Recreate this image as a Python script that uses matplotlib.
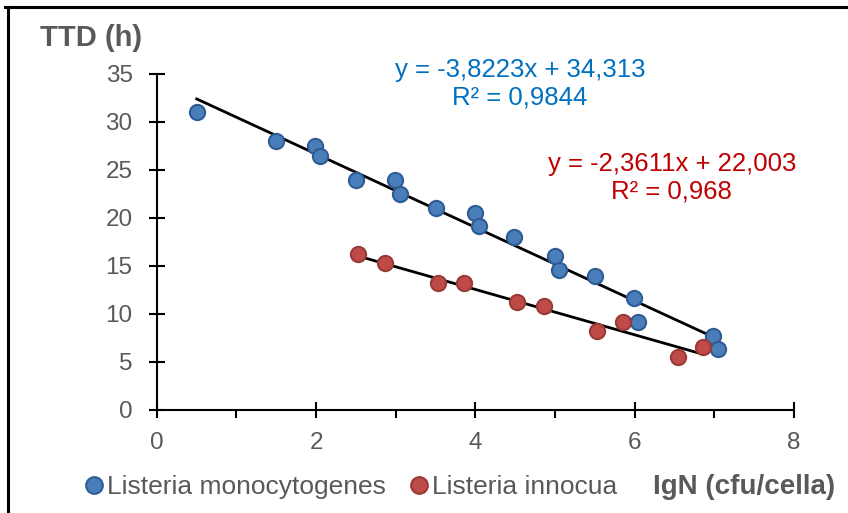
import numpy as np
import matplotlib.pyplot as plt
from matplotlib.lines import Line2D
from matplotlib.ticker import MultipleLocator

# Listeria monocytogenes
mono_x = [0.50, 1.50, 1.99, 2.05, 2.50, 2.99, 3.05, 3.50, 3.99, 4.05,
          4.48, 5.00, 5.05, 5.50, 5.99, 6.05, 6.99, 7.05]
mono_y = [31.0, 28.0, 27.5, 26.5, 24.0, 24.0, 22.5, 21.0, 20.5, 19.2,
          18.0, 16.0, 14.6, 14.0, 11.7, 9.2, 7.7, 6.4]
# Listeria innocua
inno_x = [2.53, 2.86, 3.53, 3.86, 4.53, 4.86, 5.53, 5.86, 6.54, 6.86]
inno_y = [16.2, 15.3, 13.2, 13.2, 11.2, 10.8, 8.2, 9.2, 5.55, 6.6]

# trendline coefficients (slope, intercept)
mono_fit = (-3.8223, 34.313)
inno_fit = (-2.3611, 22.003)

blue = "#4A7EBB"
blue_edge = "#2F5B93"
red = "#BE4B48"
red_edge = "#9A3A37"
gray = "#595959"

plt.rcParams["font.family"] = ["Liberation Sans", "DejaVu Sans"]

fig = plt.figure(figsize=(8.48, 5.13), dpi=100)
ax = fig.add_axes([0.185, 0.2008, 0.751, 0.655])

ax.scatter(mono_x, mono_y, s=120, color=blue, edgecolor=blue_edge, linewidth=1.5, zorder=3)
ax.scatter(inno_x, inno_y, s=120, color=red, edgecolor=red_edge, linewidth=1.5, zorder=3)

for xs, (m, b) in [(mono_x, mono_fit), (inno_x, inno_fit)]:
    xx = np.array([min(xs), max(xs)])
    ax.plot(xx, m * xx + b, color="black", lw=2, zorder=2)

ax.set_xlim(0, 8)
ax.set_ylim(0, 35)
ax.xaxis.set_major_locator(MultipleLocator(2))
ax.xaxis.set_minor_locator(MultipleLocator(1))
ax.yaxis.set_major_locator(MultipleLocator(5))
for s in ["top", "right"]:
    ax.spines[s].set_visible(False)
for s in ["left", "bottom"]:
    ax.spines[s].set_linewidth(1.5)
ax.tick_params(axis="both", which="major", direction="inout", length=11, width=1.5,
               labelsize=17.5, labelcolor=gray)
ax.tick_params(axis="y", which="major", pad=12)
ax.tick_params(axis="x", which="major", pad=10)
ax.tick_params(axis="x", which="minor", direction="out", length=6, width=1.5)

ax.text(4.56, 34.0, "y = -3,8223x + 34,313\nR² = 0,9844", color="#0070C0",
        fontsize=18.5, ha="center", va="center", linespacing=1.2)
ax.text(6.47, 24.2, "y = -2,3611x + 22,003\nR² = 0,968", color="#C00000",
        fontsize=18.5, ha="center", va="center", linespacing=1.2)

fig.text(0.047, 0.926, "TTD (h)", fontsize=21, fontweight="bold", color=gray, va="center")
fig.text(0.985, 0.051, "IgN (cfu/cella)", fontsize=20, fontweight="bold", color=gray,
         va="center", ha="right")

handles = [Line2D([], [], ls="none", marker="o", ms=12, color=blue, mec=blue_edge, mew=1.5),
           Line2D([], [], ls="none", marker="o", ms=12, color=red, mec=red_edge, mew=1.5)]
leg = fig.legend(handles, ["Listeria monocytogenes", "Listeria innocua"], loc="center left",
                 bbox_to_anchor=(0.0985, 0.051), ncol=2, frameon=False, fontsize=19,
                 borderpad=0, borderaxespad=0, handletextpad=0.1, columnspacing=0.85,
                 handlelength=0.8)
for t in leg.get_texts():
    t.set_color(gray)

# border lines (top and left) of the screenshot
fig.add_artist(Line2D([0.006, 1.0], [0.986, 0.986], color="black", lw=2.2, transform=fig.transFigure))
fig.add_artist(Line2D([0.009, 0.009], [0.0, 0.986], color="black", lw=2.2, transform=fig.transFigure))

fig.savefig("out.png", dpi=100)
